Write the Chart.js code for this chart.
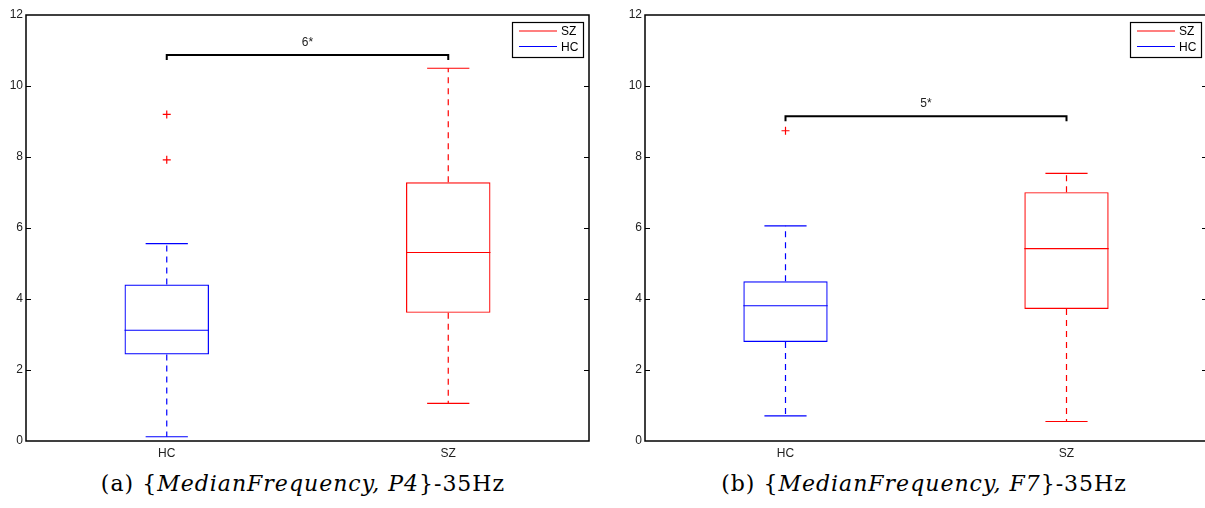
<!DOCTYPE html>
<html>
<head>
<meta charset="utf-8">
<script src="https://cdn.jsdelivr.net/npm/chart.js@4"></script>
<style>
  html, body { margin: 0; padding: 0; background: #fff; width: 1205px; height: 508px; overflow: hidden; }
  canvas { position: absolute; top: 0; }
  #chartA { left: 0; }
  #chartB { left: 619px; }
  .cap { position: absolute; top: 471px; font-family: "DejaVu Serif", serif; font-size: 22px; letter-spacing: 1px; color: #000; white-space: nowrap; transform: translateX(-50%); }
  .cap i { font-style: italic; }
</style>
</head>
<body>
<canvas id="chartA" width="600" height="470"></canvas>
<canvas id="chartB" width="600" height="470"></canvas>
<div class="cap" style="left:303px">(a) {<i>MedianFrequency, P4</i>}-35Hz</div>
<div class="cap" style="left:924px">(b) {<i>MedianFrequency, F7</i>}-35Hz</div>
<script>
// groups on the x axis
const groups = ['HC', 'SZ'];
const groupColors = ['#0000ff', '#ff0000'];
const legendLabels = ['SZ', 'HC'];
const legendColors = ['#ff0000', '#0000ff'];

// y axis
const yMin = 0;
const yMax = 12;
const yStep = 2;

// (a) MedianFrequency, P4
const aLow = [0.12, 1.06];
const aQ1 = [2.44, 3.61];
const aMedian = [3.12, 5.31];
const aQ3 = [4.41, 7.29];
const aHigh = [5.56, 10.50];
const aOutHC = [9.20, 7.92];
const aOutSZ = [];
const aBracket = 10.87;
const aLabel = '6*';

// (b) MedianFrequency, F7
const bLow = [0.71, 0.55];
const bQ1 = [2.79, 3.72];
const bMedian = [3.81, 5.42];
const bQ3 = [4.50, 7.01];
const bHigh = [6.06, 7.54];
const bOutHC = [8.74];
const bOutSZ = [];
const bBracket = 9.15;
const bLabel = '5*';

const boxDecor = {
  id: 'boxDecor',
  afterDatasetsDraw(chart, args, o) {
    const ctx = chart.ctx;
    const x = chart.scales.x, y = chart.scales.y;
    const bars = chart.getDatasetMeta(0).data;
    ctx.save();
    groups.forEach((g, i) => {
      const cx = x.getPixelForValue(i);
      const half = bars[i].width / 2;
      const capHalf = half / 2;
      ctx.strokeStyle = groupColors[i];
      ctx.lineWidth = 1.2;
      // median
      ctx.setLineDash([]);
      ctx.beginPath();
      const ym = y.getPixelForValue(o.median[i]);
      ctx.moveTo(cx - half, ym); ctx.lineTo(cx + half, ym);
      // caps
      const yh = y.getPixelForValue(o.high[i]);
      const yl = y.getPixelForValue(o.low[i]);
      ctx.moveTo(cx - capHalf, yh); ctx.lineTo(cx + capHalf, yh);
      ctx.moveTo(cx - capHalf, yl); ctx.lineTo(cx + capHalf, yl);
      ctx.stroke();
      // dashed whiskers
      ctx.setLineDash([6, 5]);
      ctx.beginPath();
      ctx.moveTo(cx, y.getPixelForValue(o.q3[i])); ctx.lineTo(cx, yh);
      ctx.moveTo(cx, y.getPixelForValue(o.q1[i])); ctx.lineTo(cx, yl);
      ctx.stroke();
    });
    ctx.setLineDash([]);

    // significance bracket
    const x0 = x.getPixelForValue(0), x1 = x.getPixelForValue(1);
    const yb = y.getPixelForValue(o.bracket);
    ctx.strokeStyle = '#000';
    ctx.lineWidth = 2;
    ctx.beginPath();
    ctx.moveTo(x0, yb + 5); ctx.lineTo(x0, yb); ctx.lineTo(x1, yb); ctx.lineTo(x1, yb + 5);
    ctx.stroke();
    ctx.fillStyle = '#222';
    ctx.font = '12px "Liberation Sans", Arial, sans-serif';
    ctx.textAlign = 'center';
    ctx.textBaseline = 'middle';
    ctx.fillText(o.label, (x0 + x1) / 2, yb - 12);

    // frame and inward ticks
    const a = chart.chartArea;
    ctx.strokeStyle = '#000';
    ctx.lineWidth = 1.5;
    ctx.strokeRect(a.left, a.top, a.right - a.left, a.bottom - a.top);
    ctx.lineWidth = 1;
    ctx.beginPath();
    for (let v = yMin + yStep; v < yMax; v += yStep) {
      const py = Math.round(y.getPixelForValue(v)) + 0.5;
      ctx.moveTo(a.left, py); ctx.lineTo(a.left + 5, py);
      ctx.moveTo(a.right - 5, py); ctx.lineTo(a.right, py);
    }
    ctx.stroke();

    // legend box
    const lw = 71, lh = 35;
    const lx = a.right - 6 - lw, ly = a.top + 7;
    ctx.fillStyle = '#fff';
    ctx.fillRect(lx, ly, lw, lh);
    ctx.lineWidth = 1.2;
    ctx.strokeRect(lx + 0.5, ly + 0.5, lw, lh);
    ctx.font = '12px "Liberation Sans", Arial, sans-serif';
    ctx.textAlign = 'left';
    legendLabels.forEach((t, k) => {
      const py = ly + 9 + k * 15.5;
      ctx.strokeStyle = legendColors[k];
      ctx.lineWidth = 1.2;
      ctx.beginPath();
      ctx.moveTo(lx + 7, py); ctx.lineTo(lx + 45, py);
      ctx.stroke();
      ctx.fillStyle = '#000';
      ctx.fillText(t, lx + 49, py + 1);
    });
    ctx.restore();
  }
};

function makeChart(id, low, q1, median, q3, high, outHC, outSZ, bracket, label, padRight) {
  const boxes = groups.map((g, i) => [q1[i], q3[i]]);
  const outliers = outHC.map(v => ({ x: 'HC', y: v })).concat(outSZ.map(v => ({ x: 'SZ', y: v })));
  return new Chart(document.getElementById(id), {
    type: 'bar',
    data: {
      labels: groups,
      datasets: [{
        data: boxes,
        backgroundColor: 'rgba(0,0,0,0)',
        borderColor: groupColors,
        borderWidth: 1.2,
        borderSkipped: false,
        categoryPercentage: 1,
        barPercentage: 0.3
      }, {
        type: 'line',
        data: outliers,
        showLine: false,
        pointStyle: 'cross',
        pointRadius: 4,
        borderColor: '#ff0000',
        borderWidth: 1.2
      }]
    },
    options: {
      responsive: false,
      animation: false,
      layout: { padding: { left: 0, top: 15, right: padRight, bottom: 0 } },
      plugins: {
        legend: { display: false },
        tooltip: { enabled: false },
        boxDecor: { low, q1, median, q3, high, bracket, label }
      },
      scales: {
        x: {
          grid: { display: false, drawTicks: false },
          border: { display: false },
          ticks: { padding: 5, color: '#222', font: { family: '"Liberation Sans", Arial, sans-serif', size: 12 } },
          afterFit: s => { s.height = 29; }
        },
        y: {
          min: yMin, max: yMax,
          grid: { display: false, drawTicks: false },
          border: { display: false },
          ticks: { stepSize: yStep, padding: 3, color: '#222', font: { family: '"Liberation Sans", Arial, sans-serif', size: 12 } },
          afterFit: s => { s.width = 26; }
        }
      }
    },
    plugins: [boxDecor]
  });
}

makeChart('chartA', aLow, aQ1, aMedian, aQ3, aHigh, aOutHC, aOutSZ, aBracket, aLabel, 11);
makeChart('chartB', bLow, bQ1, bMedian, bQ3, bHigh, bOutHC, bOutSZ, bBracket, bLabel, 12);
</script>
</body>
</html>
